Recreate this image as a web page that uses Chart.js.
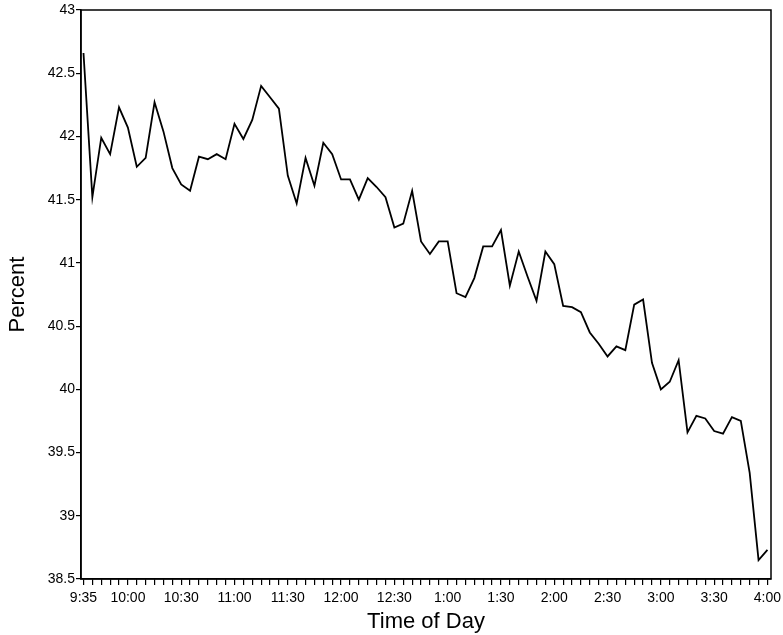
<!DOCTYPE html>
<html>
<head>
<meta charset="utf-8">
<script src="https://cdn.jsdelivr.net/npm/chart.js@4.4.1/dist/chart.umd.min.js"></script>
<style>
  html, body { margin: 0; padding: 0; background: #fff; }
  canvas { display: block; }
</style>
</head>
<body>
<canvas id="c" width="783" height="635"></canvas>
<script>
// Percent at each 5-minute interval from 9:35 to 4:00 (78 readings)
const percentValues = [
  42.66, 41.52, 41.99, 41.86, 42.23, 42.07, 41.76, 41.83, 42.27, 42.04,
  41.75, 41.62, 41.57, 41.84, 41.82, 41.86, 41.82, 42.10, 41.98, 42.13,
  42.40, 42.31, 42.22, 41.69, 41.47, 41.83, 41.61, 41.95, 41.86, 41.66,
  41.66, 41.50, 41.67, 41.60, 41.52, 41.28, 41.31, 41.57, 41.17, 41.07,
  41.17, 41.17, 40.76, 40.73, 40.88, 41.13, 41.13, 41.26, 40.82, 41.09,
  40.89, 40.70, 41.09, 40.99, 40.66, 40.65, 40.61, 40.45, 40.36, 40.26,
  40.34, 40.31, 40.67, 40.71, 40.21, 40.00, 40.06, 40.23, 39.66, 39.79,
  39.77, 39.67, 39.65, 39.78, 39.75, 39.34, 38.65, 38.73
];
// Labelled time ticks and the interval index at which each falls
const tickLabels  = ['9:35','10:00','10:30','11:00','11:30','12:00','12:30','1:00','1:30','2:00','2:30','3:00','3:30','4:00'];
const tickIndexes = [0, 5, 11, 17, 23, 29, 35, 41, 47, 53, 59, 65, 71, 77];
const yTicks = [38.5, 39, 39.5, 40, 40.5, 41, 41.5, 42, 42.5, 43];

const points = percentValues.map((v, i) => ({ x: i, y: v }));
const FONT = "'Liberation Sans', Arial, Helvetica, sans-serif";

const framePlugin = {
  id: 'frame',
  afterDatasetsDraw(chart) {
    const a = chart.chartArea, ctx = chart.ctx;
    ctx.save();
    ctx.strokeStyle = '#000';
    ctx.lineWidth = 1.5;
    ctx.strokeRect(a.left, a.top, a.right - a.left, a.bottom - a.top);
    ctx.restore();
  }
};

new Chart(document.getElementById('c'), {
  type: 'line',
  data: {
    datasets: [{
      data: points,
      borderColor: '#000',
      borderWidth: 1.8,
      pointRadius: 0,
      tension: 0,
      fill: false
    }]
  },
  options: {
    responsive: false,
    animation: false,
    layout: { padding: { left: 0, right: 12, top: 10, bottom: 0 } },
    plugins: { legend: { display: false }, tooltip: { enabled: false } },
    scales: {
      x: {
        type: 'linear',
        min: -0.28,
        max: 77.4,
        afterBuildTicks(scale) {
          scale.ticks = percentValues.map((_, i) => ({ value: i }));
        },
        afterFit(scale) {
          scale.height = 56;
          scale.paddingLeft = 0;
          scale.paddingRight = 0;
        },
        ticks: {
          autoSkip: false,
          maxRotation: 0,
          color: '#000',
          padding: 5,
          font: { family: FONT, size: 14 },
          callback(v) {
            const k = tickIndexes.indexOf(Math.round(v));
            return k >= 0 ? tickLabels[k] : '';
          }
        },
        grid: { drawOnChartArea: false, drawTicks: true, tickLength: 6, color: '#000', lineWidth: 1.2 },
        border: { display: true, color: '#000', width: 1.5 },
        title: { display: true, text: 'Time of Day', color: '#000', font: { family: FONT, size: 22 }, padding: { top: 0, bottom: 0 } }
      },
      y: {
        min: 38.5,
        max: 43,
        afterBuildTicks(scale) {
          scale.ticks = yTicks.map(v => ({ value: v }));
        },
        afterFit(scale) { scale.width = 81; },
        ticks: {
          color: '#000',
          padding: 1,
          font: { family: FONT, size: 14 },
          callback(v) { return String(Number(v)); }
        },
        grid: { drawOnChartArea: false, drawTicks: true, tickLength: 5, color: '#000', lineWidth: 1.2 },
        border: { display: true, color: '#000', width: 1.5 },
        title: { display: true, text: 'Percent', color: '#000', font: { family: FONT, size: 22 }, padding: { top: 5, bottom: 0 } }
      }
    }
  },
  plugins: [framePlugin]
});
</script>
</body>
</html>
